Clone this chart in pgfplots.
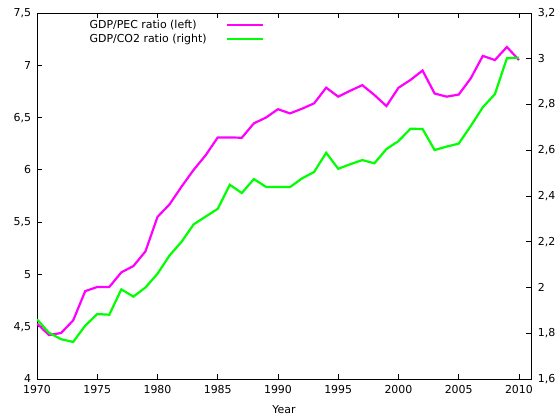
\documentclass[border=0pt]{standalone}
\usepackage{fontspec}
\setmainfont{DejaVu Sans}
\usepackage{pgfplots}
\usepackage{pgfplotstable}
\pgfplotsset{compat=1.18}

\definecolor{pecmag}{RGB}{255,0,255}
\definecolor{co2green}{RGB}{0,255,0}

\pgfplotstableread{
year pec co2
1970 4.53 1.861
1971 4.42 1.802
1972 4.44 1.774
1973 4.56 1.762
1974 4.84 1.833
1975 4.88 1.884
1976 4.88 1.881
1977 5.02 1.992
1978 5.08 1.960
1979 5.22 2.000
1980 5.55 2.060
1981 5.67 2.140
1982 5.84 2.200
1983 6.00 2.276
1984 6.14 2.310
1985 6.31 2.344
1986 6.31 2.449
1987 6.307 2.413
1988 6.445 2.474
1989 6.50 2.440
1990 6.58 2.439
1991 6.54 2.439
1992 6.585 2.477
1993 6.636 2.505
1994 6.786 2.589
1995 6.70 2.519
1996 6.757 2.539
1997 6.81 2.557
1998 6.716 2.543
1999 6.61 2.605
2000 6.785 2.640
2001 6.86 2.694
2002 6.95 2.693
2003 6.73 2.601
2004 6.70 2.616
2005 6.72 2.629
2006 6.875 2.706
2007 7.09 2.788
2008 7.05 2.845
2009 7.175 3.002
2010 7.05 3.005
}\ratios

\pgfplotsset{
  chart/.style={
    scale only axis, width=494bp, height=366bp,
    xmin=1970, xmax=2011,
    tick align=inside, major tick length=5bp,
    every tick/.style={black, line width=0.8bp},
    axis line style={black, line width=1bp},
    /pgf/number format/assume math mode=true,
    /pgf/number format/use comma,
    ticklabel style={font=\fontsize{11}{13}\selectfont},
  }
}

\begin{document}
\fontsize{11}{13}\selectfont
\begin{tikzpicture}
\begin{axis}[chart,
    ymin=4, ymax=7.5,
    ytick={4,4.5,5,5.5,6,6.5,7,7.5},
    ytick pos=left,
    y tick label style={xshift=-2bp},
    xtick={1970,1975,...,2010},
    xtick pos=both,
    x tick label style={/pgf/number format/1000 sep={}, yshift=-3bp},
    xlabel={Year},
    xlabel style={font=\fontsize{11}{13}\selectfont, yshift=-4bp},
    legend plot pos=right,
    legend cell align=left,
    legend image code/.code={\draw[#1] (0bp,0bp) -- (36bp,0bp);},
    legend style={draw=none, fill=none, at={(0.104,0.985)}, anchor=north west,
      inner sep=0pt, row sep=1bp, column sep=18bp,
      nodes={inner sep=1bp, text height=8.5bp, text depth=2.5bp,
        font=\fontsize{11}{13}\selectfont}},
]
\addplot[pecmag, line width=2.2bp] table[x=year, y=pec] {\ratios};
\addlegendentry{GDP/PEC ratio (left)}
\addlegendimage{co2green, line width=2.2bp}
\addlegendentry{GDP/CO2 ratio (right)}
\end{axis}
\begin{axis}[chart,
    hide x axis,
    axis y line*=right,
    ymin=1.6, ymax=3.2,
    ytick={1.6,1.8,2,2.2,2.4,2.6,2.8,3,3.2},
    y tick label style={xshift=3bp},
]
\addplot[co2green, line width=2.2bp] table[x=year, y=co2] {\ratios};
\end{axis}
\path (current axis.south west) ++(-37bp,-41bp) rectangle ++(560bp,420bp);
\end{tikzpicture}
\end{document}
